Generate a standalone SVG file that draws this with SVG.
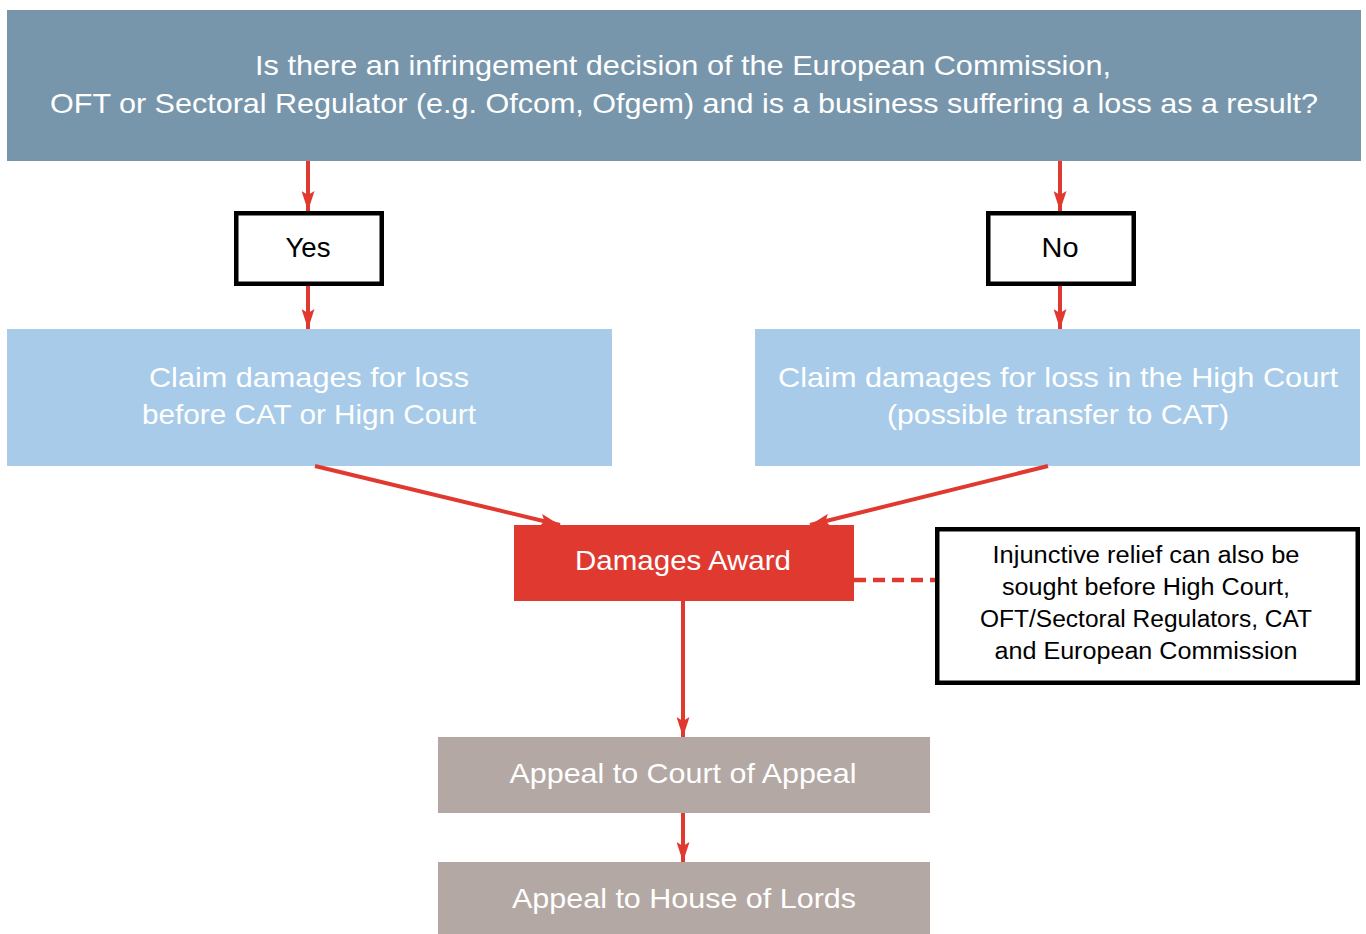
<svg xmlns="http://www.w3.org/2000/svg" width="1366" height="934" viewBox="0 0 1366 934">
<style>
text{font-family:"Liberation Sans",Arial,sans-serif;text-anchor:middle}
.w{fill:#ffffff;font-size:28.5px}
.b{fill:#000000;font-size:28.5px}
.s{fill:#000000;font-size:23.5px}
.conn{stroke:#e03a30;stroke-width:4;fill:none}
.box{fill:#ffffff;stroke:#000000;stroke-width:4.5}
</style>
<defs>
<marker id="ah" viewBox="0 0 20 13" refX="20" refY="6.5" markerWidth="20" markerHeight="13" markerUnits="userSpaceOnUse" orient="auto">
<path d="M0,0 L20,6.5 L0,13 L4,6.5 Z" fill="#e03a30"/>
</marker>
</defs>
<rect width="1366" height="934" fill="#ffffff"/>
<g id="question">
<rect x="7" y="10" width="1354" height="151" fill="#7896ab"/>
<text class="w" x="683" y="75" textLength="856" lengthAdjust="spacingAndGlyphs">Is there an infringement decision of the European Commission,</text>
<text class="w" x="684" y="113" textLength="1268" lengthAdjust="spacingAndGlyphs">OFT or Sectoral Regulator (e.g. Ofcom, Ofgem) and is a business suffering a loss as a result?</text>
</g>
<g id="yes">
<rect class="box" x="236.25" y="213.25" width="145.5" height="70.5"/>
<text class="b" x="308" y="257" textLength="45" lengthAdjust="spacingAndGlyphs">Yes</text>
</g>
<g id="no">
<rect class="box" x="988.25" y="213.25" width="145.5" height="70.5"/>
<text class="b" x="1060" y="257" textLength="37" lengthAdjust="spacingAndGlyphs">No</text>
</g>
<g id="claim-left">
<rect x="7" y="329" width="605" height="137" fill="#a7cbe8"/>
<text class="w" x="309" y="387" textLength="320" lengthAdjust="spacingAndGlyphs">Claim damages for loss</text>
<text class="w" x="309" y="424" textLength="334" lengthAdjust="spacingAndGlyphs">before CAT or Hign Court</text>
</g>
<g id="claim-right">
<rect x="755" y="329" width="605" height="137" fill="#a7cbe8"/>
<text class="w" x="1058" y="387" textLength="560" lengthAdjust="spacingAndGlyphs">Claim damages for loss in the High Court</text>
<text class="w" x="1058" y="424" textLength="342" lengthAdjust="spacingAndGlyphs">(possible transfer to CAT)</text>
</g>
<g id="damages">
<rect x="514" y="525" width="340" height="76" fill="#e03a30"/>
<text class="w" x="683" y="570" textLength="216" lengthAdjust="spacingAndGlyphs">Damages Award</text>
</g>
<g id="injunctive">
<rect class="box" x="937.25" y="529.25" width="420.5" height="153.5"/>
<text class="s" x="1146" y="563" textLength="307" lengthAdjust="spacingAndGlyphs">Injunctive relief can also be</text>
<text class="s" x="1146" y="595" textLength="288" lengthAdjust="spacingAndGlyphs">sought before High Court,</text>
<text class="s" x="1146" y="627" textLength="332" lengthAdjust="spacingAndGlyphs">OFT/Sectoral Regulators, CAT</text>
<text class="s" x="1146" y="659" textLength="303" lengthAdjust="spacingAndGlyphs">and European Commission</text>
</g>
<g id="appeal-court">
<rect x="438" y="737" width="492" height="76" fill="#b3a8a4"/>
<text class="w" x="683" y="783" textLength="347" lengthAdjust="spacingAndGlyphs">Appeal to Court of Appeal</text>
</g>
<g id="appeal-lords">
<rect x="438" y="862" width="492" height="72" fill="#b3a8a4"/>
<text class="w" x="684" y="908" textLength="344" lengthAdjust="spacingAndGlyphs">Appeal to House of Lords</text>
</g>
<g id="connectors">
<line class="conn" x1="308" y1="161" x2="308" y2="211" marker-end="url(#ah)"/>
<line class="conn" x1="1060" y1="161" x2="1060" y2="211" marker-end="url(#ah)"/>
<line class="conn" x1="308" y1="286" x2="308" y2="329" marker-end="url(#ah)"/>
<line class="conn" x1="1060" y1="286" x2="1060" y2="329" marker-end="url(#ah)"/>
<line class="conn" x1="315" y1="466" x2="560" y2="525" marker-end="url(#ah)"/>
<line class="conn" x1="1048" y1="466" x2="810" y2="525" marker-end="url(#ah)"/>
<line class="conn" x1="683" y1="601" x2="683" y2="737" marker-end="url(#ah)"/>
<line class="conn" x1="683" y1="813" x2="683" y2="862" marker-end="url(#ah)"/>
<line x1="854" y1="580" x2="935" y2="580" stroke="#e03a30" stroke-width="4.5" stroke-dasharray="12,7"/>
</g>
</svg>
